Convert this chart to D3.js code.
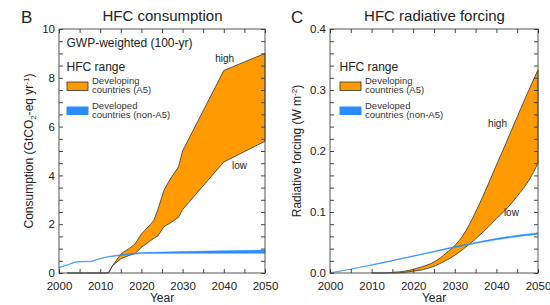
<!DOCTYPE html>
<html>
<head>
<meta charset="utf-8">
<script src="https://cdn.jsdelivr.net/npm/d3@7"></script>
<style>
    body { margin: 0; background: #fff; }
    svg text { font-family: "Liberation Sans", Arial, sans-serif; fill: #222; }
    .tick line { stroke: #444; }
</style>
</head>
<body>
<svg></svg>
<script>
/* global d3 */

// Panel B: HFC consumption, GtCO2-eq per year
let consYears = [2002, 2012, 2013, 2015, 2017, 2018.5, 2020, 2022, 2023, 2024, 2025.5, 2027, 2029, 2030, 2040, 2050];
let consHigh  = [0, 0, 0.3, 0.78, 1.0, 1.2, 1.6, 1.95, 2.15, 2.6, 3.4, 3.85, 4.35, 5.0, 8.3, 9.0];
let consLow   = [0, 0, 0.3, 0.58, 0.72, 0.8, 1.05, 1.3, 1.42, 1.52, 1.9, 2.05, 2.28, 2.6, 4.55, 5.4];

let consNonA5Years = [2000, 2002, 2004, 2008, 2010, 2012, 2015, 2020, 2030, 2040, 2050];
let consNonA5Low   = [0.22, 0.32, 0.44, 0.47, 0.58, 0.66, 0.72, 0.8, 0.81, 0.81, 0.81];
let consNonA5High  = [0.24, 0.34, 0.46, 0.49, 0.6, 0.68, 0.75, 0.84, 0.88, 0.91, 0.94];

// Panel C: HFC radiative forcing, W m-2
let rfYears = [2010, 2013, 2015, 2018, 2020, 2022, 2025, 2028, 2030, 2032, 2035, 2038, 2040, 2042, 2045, 2048, 2050];
let rfHigh  = [0, 0, 0.001, 0.003, 0.006, 0.01, 0.018, 0.033, 0.045, 0.062, 0.1, 0.145, 0.177, 0.208, 0.256, 0.303, 0.333];
let rfLow   = [0, 0, 0, 0.001, 0.003, 0.005, 0.011, 0.021, 0.029, 0.039, 0.056, 0.075, 0.089, 0.102, 0.126, 0.154, 0.18];

let rfNonA5Years = [2000, 2005, 2010, 2015, 2020, 2025, 2030, 2035, 2040, 2045, 2050];
let rfNonA5Low   = [0, 0.006, 0.0128, 0.0198, 0.0272, 0.0345, 0.0418, 0.0485, 0.0545, 0.0595, 0.0635];
let rfNonA5High  = [0.0004, 0.0065, 0.0135, 0.0207, 0.0283, 0.0358, 0.0433, 0.0502, 0.0565, 0.0618, 0.066];

// Axis ticks
let yearTicks = d3.range(2000, 2051, 5);
let consTicks = d3.range(0, 10.01, 0.5);
let rfTicks = d3.range(0, 0.401, 0.02);

let orange = "#ff9a00",
    blue = "#2b8cff";

let width = 550,
    height = 305;

let svg = d3.select("svg")
    .attr("width", width)
    .attr("height", height);

// zip year array with low/high arrays
function band(years, low, high){
    return years.map((yr, i) => ({year: yr, low: low[i], high: high[i]}));
}

function drawPanel(p){
    let x = d3.scaleLinear().domain([2000, 2050]).range([p.left, p.right]);
    let y = d3.scaleLinear().domain([0, p.yMax]).range([273, 29]);

    let g = svg.append("g");

    // Developing countries range (orange)
    let area = d3.area()
        .curve(p.curve)
        .x(d => x(d.year))
        .y0(d => y(d.low))
        .y1(d => y(d.high));

    g.append("path")
        .datum(band(p.years, p.low, p.high))
        .attr("d", area)
        .style("fill", orange)
        .style("stroke", "#333")
        .style("stroke-width", "0.8px")
        .style("stroke-linejoin", "round");

    // Developed countries (blue, thin band)
    g.append("path")
        .datum(band(p.blueYears, p.blueLow, p.blueHigh))
        .attr("d", area)
        .style("fill", blue)
        .style("stroke", blue)
        .style("stroke-width", "0.5px");

    // Frame
    g.append("rect")
        .attr("x", p.left)
        .attr("y", 29)
        .attr("width", p.right - p.left)
        .attr("height", 244)
        .style("fill", "none")
        .style("stroke", "#555")
        .style("stroke-width", "1px");

    // Axes with inward ticks
    let bottom = g.append("g")
        .attr("transform", "translate(0,273)")
        .call(d3.axisBottom(x).tickValues(yearTicks).tickSize(-4).tickPadding(9)
            .tickFormat(d => d % 10 === 0 ? d : ""));
    let top = g.append("g")
        .attr("transform", "translate(0,29)")
        .call(d3.axisTop(x).tickValues(yearTicks).tickSize(-4).tickFormat(""));
    let left = g.append("g")
        .attr("transform", "translate(" + p.left + ",0)")
        .call(d3.axisLeft(y).tickValues(p.yTicks).tickSize(-4).tickPadding(4)
            .tickFormat(p.yFormat));
    let right = g.append("g")
        .attr("transform", "translate(" + p.right + ",0)")
        .call(d3.axisRight(y).tickValues(p.yTicks).tickSize(-4).tickFormat(""));

    for (let ax of [bottom, top, left, right]){
        ax.select(".domain").remove();
        ax.selectAll("text")
            .style("font-size", "11.5px")
            .style("fill", "#222");
    }

    // Panel letter and title
    g.append("text")
        .attr("x", p.letterX)
        .attr("y", 23)
        .style("font-size", "17px")
        .text(p.letter);

    g.append("text")
        .attr("x", (p.left + p.right) / 2 + 0.5)
        .attr("y", 21)
        .attr("text-anchor", "middle")
        .style("font-size", "15px")
        .text(p.title);

    // X axis title
    g.append("text")
        .attr("x", (p.left + p.right) / 2)
        .attr("y", 302)
        .attr("text-anchor", "middle")
        .style("font-size", "12px")
        .text("Year");

    // Y axis title with sub/superscripts
    let ylab = g.append("text")
        .attr("transform", "translate(" + p.yLabelX + ",151) rotate(-90)")
        .attr("text-anchor", "middle")
        .style("font-size", "12px");
    for (let part of p.yLabel){
        ylab.append("tspan")
            .attr("dy", part.dy || 0)
            .style("font-size", part.small ? "8px" : "12px")
            .text(part.t);
    }

    // high / low notes
    for (let n of p.notes){
        g.append("text")
            .attr("x", x(n.year))
            .attr("y", y(n.value))
            .style("font-size", "10px")
            .text(n.text);
    }

    // Legend
    let lx = p.legendX;
    if (p.subtitle){
        g.append("text")
            .attr("x", lx)
            .attr("y", 47)
            .style("font-size", "12px")
            .text(p.subtitle);
    }
    g.append("text")
        .attr("x", lx)
        .attr("y", 71)
        .style("font-size", "12px")
        .text("HFC range");

    g.append("rect")
        .attr("x", lx + 0.5)
        .attr("y", 82)
        .attr("width", 21)
        .attr("height", 8.5)
        .style("fill", orange)
        .style("stroke", "#333")
        .style("stroke-width", "0.8px");
    g.append("rect")
        .attr("x", lx)
        .attr("y", 106.5)
        .attr("width", 22)
        .attr("height", 8.5)
        .style("fill", blue);

    let legendLines = [
        ["Developing", 83.5], ["countries (A5)", 93],
        ["Developed", 108.5], ["countries (non-A5)", 118]
    ];
    for (let [t, ty] of legendLines){
        g.append("text")
            .attr("x", lx + 25.5)
            .attr("y", ty)
            .style("font-size", "9.5px")
            .style("fill", "#333")
            .text(t);
    }
}

drawPanel({
    left: 59, right: 265, yMax: 10,
    yTicks: consTicks,
    yFormat: d => d % 2 === 0 ? d : "",
    curve: d3.curveLinear,
    years: consYears, low: consLow, high: consHigh,
    blueYears: consNonA5Years, blueLow: consNonA5Low, blueHigh: consNonA5High,
    letter: "B", letterX: 21,
    title: "HFC consumption",
    yLabelX: 32.5,
    yLabel: [{t: "Consumption (GtCO"}, {t: "2", small: true, dy: 3}, {t: "-eq yr", dy: -3},
             {t: "-1", small: true, dy: -4}, {t: ")", dy: 4}],
    notes: [{text: "high", year: 2037.9, value: 8.65}, {text: "low", year: 2042, value: 4.26}],
    legendX: 66.5,
    subtitle: "GWP-weighted (100-yr)"
});

drawPanel({
    left: 330, right: 538, yMax: 0.4,
    yTicks: rfTicks,
    yFormat: d => Math.abs(d * 10 - Math.round(d * 10)) < 1e-6 ? d3.format(".1f")(d) : "",
    curve: d3.curveMonotoneX,
    years: rfYears, low: rfLow, high: rfHigh,
    blueYears: rfNonA5Years, blueLow: rfNonA5Low, blueHigh: rfNonA5High,
    letter: "C", letterX: 291,
    title: "HFC radiative forcing",
    yLabelX: 301,
    yLabel: [{t: "Radiative forcing (W m"}, {t: "-2", small: true, dy: -4}, {t: ")", dy: 4}],
    notes: [{text: "high", year: 2038, value: 0.24}, {text: "low", year: 2041.8, value: 0.093}],
    legendX: 339.5,
    subtitle: null
});
</script>
</body>
</html>
